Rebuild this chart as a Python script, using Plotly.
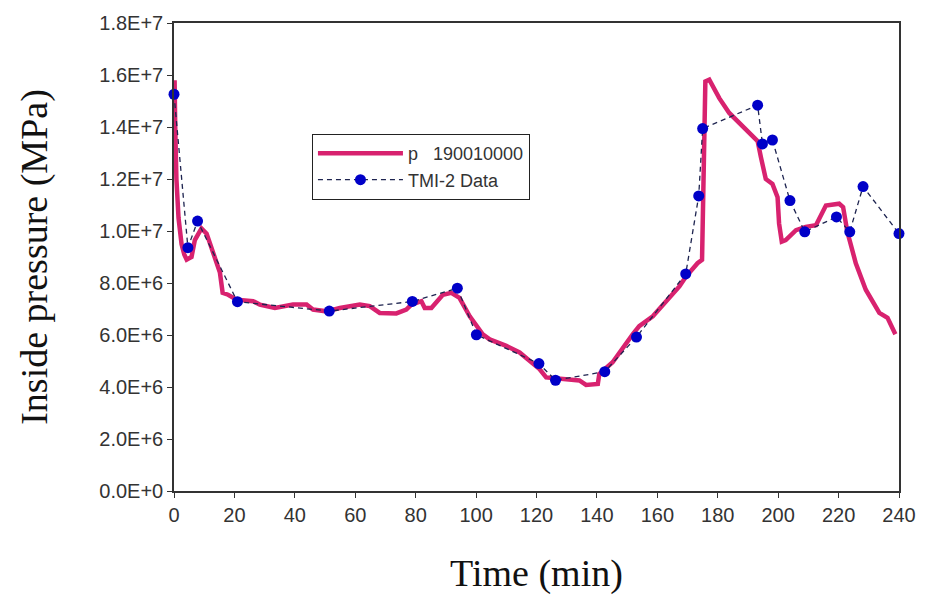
import plotly.graph_objects as go
import numpy as np

# Simulated pressure (p 190010000), time in min, pressure in 1E6 Pa
sim_time = [0.0, 0.2, 0.4, 0.8, 1.5, 2.5, 3.4, 4.2, 5.0, 5.8, 6.9, 8.0, 9.1, 10.8, 13.0, 15.2, 16.1, 17.9, 20.7,
            26.2, 28.4, 33.4, 39.4, 43.9, 46.0, 50.5, 54.9, 61.5, 64.8, 68.1, 73.6, 76.9, 78.6, 81.9, 83.0, 85.2,
            89.0, 91.8, 94.5, 97.9, 102.2, 104.5, 110.0, 114.4, 117.7, 121.0, 123.2, 127.6, 134.2, 136.4, 140.3,
            140.8, 145.2, 151.9, 154.0, 158.5, 165.1, 167.3, 169.5, 173.3, 174.8, 175.2, 175.9, 177.2, 180.5,
            183.8, 187.1, 190.4, 193.2, 194.3, 195.9, 198.1, 199.8, 200.3, 201.2, 202.5, 205.9, 209.1, 212.5,
            215.8, 220.2, 221.5, 222.9, 225.7, 229.0, 233.5, 236.2, 238.8]
sim_pressure = [15.1, 15.8, 14.0, 12.0, 10.5, 9.5, 9.1, 8.9, 8.95, 9.0, 9.65, 9.9, 10.1, 9.9, 9.14, 8.4, 7.62, 7.55, 7.36,
                7.30, 7.17, 7.04, 7.17, 7.17, 6.98, 6.91, 7.04, 7.17, 7.11, 6.85, 6.83, 6.98, 7.17, 7.30, 7.04, 7.04,
                7.55, 7.62, 7.43, 6.72, 6.03, 5.83, 5.58, 5.33, 5.01, 4.69, 4.37, 4.31, 4.25, 4.08, 4.12,
                4.50, 4.95, 6.03, 6.34, 6.72, 7.55, 7.87, 8.25, 8.76, 8.89, 11.81, 15.75, 15.82, 15.11,
                14.54, 14.16, 13.78, 13.46, 12.83, 12.0, 11.81, 11.30, 10.29, 9.59, 9.65, 10.03, 10.16, 10.22,
                10.98, 11.05, 10.92, 9.97, 8.76, 7.74, 6.85, 6.66, 6.03]

# TMI-2 measured data
tmi_time = [0.0, 4.6, 7.8, 21.0, 51.4, 78.9, 93.8, 100.1, 120.8, 126.3, 142.6, 153.1, 169.4, 173.7, 175.0,
            193.2, 194.8, 198.1, 203.9, 208.8, 219.3, 223.7, 228.1, 240.0]
tmi_pressure = [15.26, 9.36, 10.38, 7.28, 6.92, 7.29, 7.80, 6.01, 4.90, 4.26, 4.59, 5.92, 8.35, 11.35, 13.94,
                14.84, 13.35, 13.50, 11.17, 9.97, 10.54, 9.97, 11.71, 9.90]

y_tickvals = [0, 2e6, 4e6, 6e6, 8e6, 1e7, 1.2e7, 1.4e7, 1.6e7, 1.8e7]
y_ticktext = ["0.0E+0", "2.0E+6", "4.0E+6", "6.0E+6", "8.0E+6", "1.0E+7", "1.2E+7", "1.4E+7", "1.6E+7", "1.8E+7"]
x_tickvals = [0, 20, 40, 60, 80, 100, 120, 140, 160, 180, 200, 220, 240]

fig = go.Figure()
fig.add_trace(go.Scatter(
    x=sim_time, y=np.array(sim_pressure) * 1e6, mode="lines", name="p   190010000",
    line=dict(color="#d8226f", width=4.5)))
fig.add_trace(go.Scatter(
    x=tmi_time, y=np.array(tmi_pressure) * 1e6, mode="lines+markers", name="TMI-2 Data",
    line=dict(color="#1e2450", width=1.3, dash="5px,4px"),
    marker=dict(color="#0000c8", size=11), cliponaxis=False))

tickfont = dict(family="Liberation Sans, Arial", size=20, color="#333333")
fig.update_layout(
    width=928, height=599,
    margin=dict(l=174, r=28, t=21, b=106),
    paper_bgcolor="white", plot_bgcolor="white",
    showlegend=True,
    legend=dict(x=0.19, y=0.763, xanchor="left", yanchor="top",
                bordercolor="#222222", borderwidth=1.2, bgcolor="white",
                font=dict(family="Liberation Sans, Arial", size=18, color="#333333"),
                itemwidth=85, tracegroupgap=0),
    xaxis=dict(range=[0, 240], tickvals=x_tickvals, tickfont=tickfont,
               showline=True, linecolor="#333333", linewidth=1.5, mirror=True,
               ticks="outside", ticklen=5, tickcolor="#333333", showgrid=False, zeroline=False,
               title=dict(text="Time (min)", font=dict(family="Liberation Serif, Times New Roman", size=38, color="#111111"),
                          standoff=35)),
    yaxis=dict(range=[0, 1.8e7], tickvals=y_tickvals, ticktext=y_ticktext, tickfont=tickfont,
               showline=True, linecolor="#333333", linewidth=1.5, mirror=True,
               ticks="outside", ticklen=5, tickcolor="#333333", showgrid=False, zeroline=False,
               title=dict(text="Inside pressure (MPa)", font=dict(family="Liberation Serif, Times New Roman", size=38, color="#111111"),
                          standoff=40)),
)
fig.write_html("out.html")
